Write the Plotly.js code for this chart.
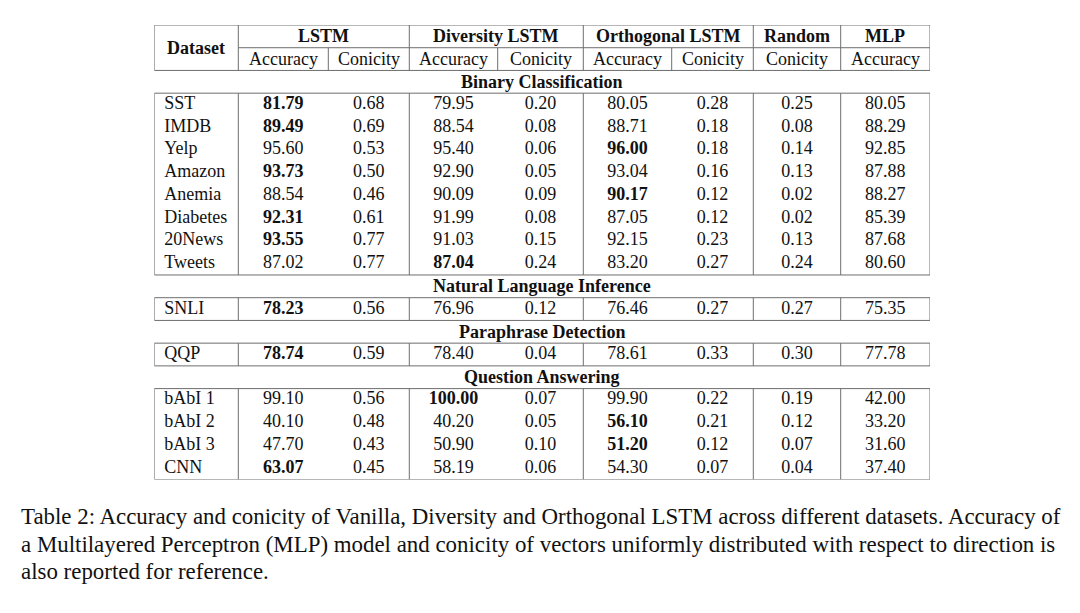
<!DOCTYPE html>
<html>
<head>
<meta charset="utf-8">
<script src="https://cdn.plot.ly/plotly-3.0.1.min.js"></script>
<style>html,body{margin:0;padding:0;background:#fff;}#chart{width:1080px;height:613px;}</style>
</head>
<body>
<div id="chart"></div>
<script>
// ---------- data ----------
const sections = ['Binary Classification', 'Natural Language Inference', 'Paraphrase Detection', 'Question Answering'];
const sectionSizes = [8, 1, 1, 4];
const datasets = ['SST', 'IMDB', 'Yelp', 'Amazon', 'Anemia', 'Diabetes', '20News', 'Tweets', 'SNLI', 'QQP', 'bAbI 1', 'bAbI 2', 'bAbI 3', 'CNN'];
const lstmAcc = [81.79, 89.49, 95.60, 93.73, 88.54, 92.31, 93.55, 87.02, 78.23, 78.74, 99.10, 40.10, 47.70, 63.07];
const lstmCon = [0.68, 0.69, 0.53, 0.50, 0.46, 0.61, 0.77, 0.77, 0.56, 0.59, 0.56, 0.48, 0.43, 0.45];
const divAcc  = [79.95, 88.54, 95.40, 92.90, 90.09, 91.99, 91.03, 87.04, 76.96, 78.40, 100.00, 40.20, 50.90, 58.19];
const divCon  = [0.20, 0.08, 0.06, 0.05, 0.09, 0.08, 0.15, 0.24, 0.12, 0.04, 0.07, 0.05, 0.10, 0.06];
const orthAcc = [80.05, 88.71, 96.00, 93.04, 90.17, 87.05, 92.15, 83.20, 76.46, 78.61, 99.90, 56.10, 51.20, 54.30];
const orthCon = [0.28, 0.18, 0.18, 0.16, 0.12, 0.12, 0.23, 0.27, 0.27, 0.33, 0.22, 0.21, 0.12, 0.07];
const randCon = [0.25, 0.08, 0.14, 0.13, 0.02, 0.02, 0.13, 0.24, 0.27, 0.30, 0.19, 0.12, 0.07, 0.04];
const mlpAcc  = [80.05, 88.29, 92.85, 87.88, 88.27, 85.39, 87.68, 80.60, 75.35, 77.78, 42.00, 33.20, 31.60, 37.40];
const groupHeaders = ['LSTM', 'Diversity LSTM', 'Orthogonal LSTM', 'Random', 'MLP'];
const subHeaders = ['Accuracy', 'Conicity', 'Accuracy', 'Conicity', 'Accuracy', 'Conicity', 'Conicity', 'Accuracy'];
const captionLines = [
  'Table 2: Accuracy and conicity of Vanilla, Diversity and Orthogonal LSTM across different datasets. Accuracy of',
  'a Multilayered Perceptron (MLP) model and conicity of vectors uniformly distributed with respect to direction is',
  'also reported for reference.'
];

// ---------- layout constants ----------
const FONT = '"Liberation Serif", "Times New Roman", Times, serif';
const INK = '#111111';
const RULE = '#6e6e6e';
const colEdges = [0, 84, 174, 255, 343.4, 429, 517.4, 599, 686.4, 775.7];
const groupSpans = [[1, 3], [3, 5], [5, 7], [7, 8], [8, 9]];
const groupSeps = [1, 3, 5, 7, 8];
const subSeps = [2, 4, 6];
const nRows = 20;
const fs = 18;

// row index of each dataset and each section title
const dataRow = [], titleRow = [], boxes = [];
let rr = 2;
sections.forEach((s, si) => {
  titleRow.push(rr);
  boxes.push([rr + 1, rr + 1 + sectionSizes[si]]);
  for (let k = 0; k < sectionSizes[si]; k++) dataRow.push(rr + 1 + k);
  rr += sectionSizes[si] + 1;
});
const mid = i => (colEdges[i] + colEdges[i + 1]) / 2;
const rowC = dataRow.map(v => v + 0.5);

const best = datasets.map((d, i) => Math.max(lstmAcc[i], divAcc[i], orthAcc[i]));
const fmt = (arr, bold) => arr.map((v, i) => {
  const s = v.toFixed(2);
  return bold && v === best[i] ? '<b>' + s + '</b>' : s;
});

const columns = [lstmAcc, lstmCon, divAcc, divCon, orthAcc, orthCon, randCon, mlpAcc];
const accCols = [0, 2, 4];

const traces = [];
traces.push({
  type: 'scatter', mode: 'text', x: datasets.map(() => 10), y: rowC, text: datasets,
  textposition: 'middle right', textfont: {family: FONT, size: fs, color: INK},
  hoverinfo: 'skip', showlegend: false
});
columns.forEach((col, ci) => {
  traces.push({
    type: 'scatter', mode: 'text', x: col.map(() => mid(ci + 1)), y: rowC,
    text: fmt(col, accCols.includes(ci)),
    textposition: 'middle center', textfont: {family: FONT, size: fs, color: INK},
    hoverinfo: 'skip', showlegend: false
  });
});

// ---------- shapes ----------
const shapes = [];
const L = (x0, y0, x1, y1) => shapes.push({type: 'line', xref: 'x', yref: 'y', x0, y0, x1, y1, line: {color: RULE, width: 1}});
const xR = colEdges[colEdges.length - 1];
// header box
L(0, 0, xR, 0); L(0, 2, xR, 2); L(0, 0, 0, 2); L(xR, 0, xR, 2);
L(colEdges[1], 1, xR, 1);
groupSeps.forEach(e => L(colEdges[e], 0, colEdges[e], 2));
subSeps.forEach(e => L(colEdges[e], 1, colEdges[e], 2));
// data boxes
boxes.forEach(([y0, y1]) => {
  L(0, y0, xR, y0); L(0, y1, xR, y1); L(0, y0, 0, y1); L(xR, y0, xR, y1);
  groupSeps.forEach(e => L(colEdges[e], y0, colEdges[e], y1));
});

// ---------- annotations ----------
const ann = [];
const A = (x, y, text, bold, extra) => ann.push(Object.assign({
  xref: 'x', yref: 'y', x, y, text: bold ? '<b>' + text + '</b>' : text, showarrow: false,
  font: {family: FONT, size: fs, color: INK}, xanchor: 'center', yanchor: 'middle'
}, extra || {}));
A(colEdges[1] / 2, 1, 'Dataset', true);
groupHeaders.forEach((g, i) => A((colEdges[groupSpans[i][0]] + colEdges[groupSpans[i][1]]) / 2, 0.5, g, true));
subHeaders.forEach((s, i) => A(mid(i + 1), 1.5, s, false));
sections.forEach((s, i) => A(xR / 2, titleRow[i] + 0.5, s, true));
const capY = [516, 544, 571];
captionLines.forEach((t, i) => ann.push({
  xref: 'paper', yref: 'paper', x: 19 / 1080, y: 1 - capY[i] / 613, xanchor: 'left', yanchor: 'middle',
  text: t, showarrow: false, font: {family: FONT, size: 22.9, color: INK}
}));

const tblTop = 25, tblBottom = 479.5, tblLeft = 154.3, tblRight = 930;
const layout = {
  width: 1080, height: 613,
  margin: {l: 0, r: 0, t: 0, b: 0},
  paper_bgcolor: '#fff', plot_bgcolor: '#fff',
  xaxis: {domain: [tblLeft / 1080, tblRight / 1080], range: [0, xR], visible: false, fixedrange: true},
  yaxis: {domain: [1 - tblBottom / 613, 1 - tblTop / 613], range: [nRows, 0], visible: false, fixedrange: true},
  shapes, annotations: ann, showlegend: false
};
Plotly.newPlot('chart', traces, layout, {staticPlot: true, displayModeBar: false});
</script>
</body>
</html>
